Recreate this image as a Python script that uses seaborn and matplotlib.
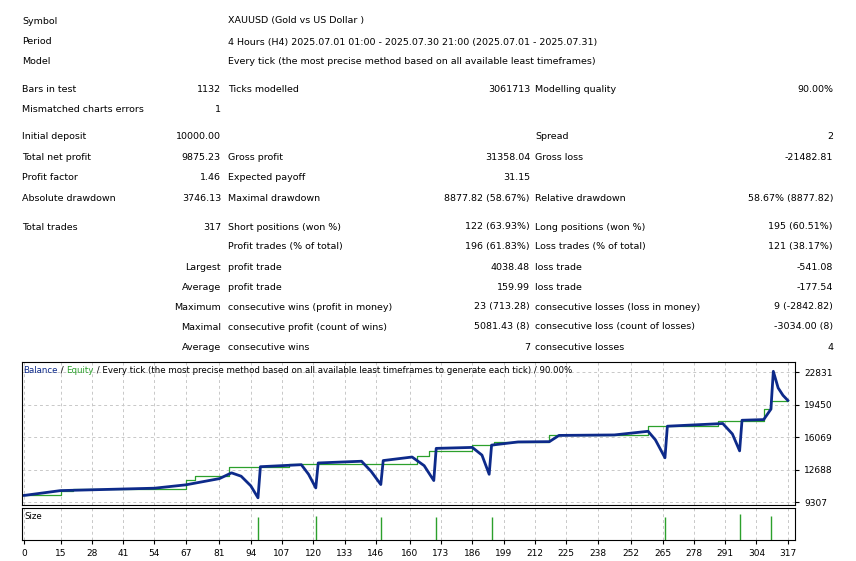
import matplotlib
matplotlib.use("Agg")
import matplotlib.pyplot as plt
import seaborn as sns
import pandas as pd

# ---- chart data ----
bal_t = [0, 15, 54, 67, 81, 86, 90, 94, 97, 98, 115, 118, 121, 122, 140, 144, 148, 149, 161, 166, 170, 171, 186, 190, 193, 194, 205, 218, 222, 245, 259, 262, 266, 267, 290, 294, 297, 298, 307, 310, 311, 313, 315, 317]
bal_v = [10000, 10500, 10750, 11100, 11750, 12350, 12000, 11000, 9750, 12990, 13200, 12200, 10780, 13380, 13560, 12500, 11130, 13630, 14000, 13100, 11550, 14900, 15000, 14200, 12200, 15240, 15570, 15600, 16250, 16300, 16680, 15800, 13920, 17210, 17490, 16400, 14640, 17830, 17900, 18990, 22930, 21200, 20430, 19900]
eq_t = [0, 15, 20, 67, 71, 85, 110, 163, 168, 186, 195, 218, 259, 288, 307, 310, 317]
eq_v = [10000, 10500, 10650, 11650, 12000, 12920, 13300, 14100, 14640, 15240, 15600, 16250, 17210, 17800, 18990, 19880, 19880]
size_t = [97, 121, 148, 171, 194, 266, 297, 310]
size_v = [0.72, 0.75, 0.72, 0.72, 0.72, 0.72, 0.82, 0.74]
xticks = [0, 15, 28, 41, 54, 67, 81, 94, 107, 120, 133, 146, 160, 173, 186, 199, 212, 225, 238, 252, 265, 278, 291, 304, 317]
yticks = [9307, 12688, 16069, 19450, 22831]

rows = [
    (21, [("Symbol", 22, "left"), ("XAUUSD (Gold vs US Dollar )", 228, "left")]),
    (42, [("Period", 22, "left"), ("4 Hours (H4) 2025.07.01 01:00 - 2025.07.30 21:00 (2025.07.01 - 2025.07.31)", 228, "left")]),
    (62, [("Model", 22, "left"), ("Every tick (the most precise method based on all available least timeframes)", 228, "left")]),
    (89, [("Bars in test", 22, "left"), ("1132", 221, "right"), ("Ticks modelled", 228, "left"), ("3061713", 530, "right"), ("Modelling quality", 535, "left"), ("90.00%", 833, "right")]),
    (109, [("Mismatched charts errors", 22, "left"), ("1", 221, "right")]),
    (137, [("Initial deposit", 22, "left"), ("10000.00", 221, "right"), ("Spread", 535, "left"), ("2", 833, "right")]),
    (158, [("Total net profit", 22, "left"), ("9875.23", 221, "right"), ("Gross profit", 228, "left"), ("31358.04", 530, "right"), ("Gross loss", 535, "left"), ("-21482.81", 833, "right")]),
    (178, [("Profit factor", 22, "left"), ("1.46", 221, "right"), ("Expected payoff", 228, "left"), ("31.15", 530, "right")]),
    (198, [("Absolute drawdown", 22, "left"), ("3746.13", 221, "right"), ("Maximal drawdown", 228, "left"), ("8877.82 (58.67%)", 530, "right"), ("Relative drawdown", 535, "left"), ("58.67% (8877.82)", 833, "right")]),
    (227, [("Total trades", 22, "left"), ("317", 221, "right"), ("Short positions (won %)", 228, "left"), ("122 (63.93%)", 530, "right"), ("Long positions (won %)", 535, "left"), ("195 (60.51%)", 833, "right")]),
    (247, [("Profit trades (% of total)", 228, "left"), ("196 (61.83%)", 530, "right"), ("Loss trades (% of total)", 535, "left"), ("121 (38.17%)", 833, "right")]),
    (267, [("Largest", 221, "right"), ("profit trade", 228, "left"), ("4038.48", 530, "right"), ("loss trade", 535, "left"), ("-541.08", 833, "right")]),
    (287, [("Average", 221, "right"), ("profit trade", 228, "left"), ("159.99", 530, "right"), ("loss trade", 535, "left"), ("-177.54", 833, "right")]),
    (307, [("Maximum", 221, "right"), ("consecutive wins (profit in money)", 228, "left"), ("23 (713.28)", 530, "right"), ("consecutive losses (loss in money)", 535, "left"), ("9 (-2842.82)", 833, "right")]),
    (327, [("Maximal", 221, "right"), ("consecutive profit (count of wins)", 228, "left"), ("5081.43 (8)", 530, "right"), ("consecutive loss (count of losses)", 535, "left"), ("-3034.00 (8)", 833, "right")]),
    (347, [("Average", 221, "right"), ("consecutive wins", 228, "left"), ("7", 530, "right"), ("consecutive losses", 535, "left"), ("4", 833, "right")]),
]

W, H = 856, 561
fig = plt.figure(figsize=(W / 100, H / 100), dpi=100)
fig.patch.set_facecolor("white")
for y, cells in rows:
    for txt, x, ha in cells:
        fig.text(x / W, 1 - y / H, txt, ha=ha, va="center", fontsize=6.8, family="DejaVu Sans")

L, R = 22 / W, 795 / W
ax = fig.add_axes([L, 1 - 505 / H, R - L, (505 - 362) / H])
ax2 = fig.add_axes([L, 1 - 540 / H, R - L, (540 - 508) / H])

df_eq = pd.DataFrame({"t": eq_t, "v": eq_v})
df_bal = pd.DataFrame({"t": bal_t, "v": bal_v})
sns.lineplot(data=df_eq, x="t", y="v", ax=ax, color="#2ca02c", lw=0.9, drawstyle="steps-post")
sns.lineplot(data=df_bal, x="t", y="v", ax=ax, color="#0d2a8a", lw=2.0)
xmin, xmax = -1, 320
ax.set_xlim(xmin, xmax)
ax.set_ylim(9000, 23900)
ax.yaxis.tick_right()
ax.set_yticks(yticks)
ax.set_yticklabels([str(v) for v in yticks], fontsize=6.5)
ax.set_xticks(xticks)
ax.tick_params(axis="x", labelbottom=False, length=0)
ax.tick_params(axis="y", length=3)
ax.grid(True, ls=(0, (3, 3)), color="#c8c8c8", lw=0.7)
ax.set_xlabel(""); ax.set_ylabel("")

fs = 6.2
t1 = ax.text(0.002, 0.975, "Balance", transform=ax.transAxes, color="#0d2a8a", fontsize=fs, va="top")
t2 = ax.annotate(" / ", xy=(1, 0), xycoords=t1, va="bottom", fontsize=fs, color="black")
t3 = ax.annotate("Equity", xy=(1, 0), xycoords=t2, va="bottom", fontsize=fs, color="#2ca02c")
ax.annotate(" / Every tick (the most precise method based on all available least timeframes to generate each tick) / 90.00%",
            xy=(1, 0), xycoords=t3, va="bottom", fontsize=fs, color="black")

ax2.vlines(size_t, 0, size_v, color="#2ca02c", lw=1)
ax2.set_xlim(xmin, xmax)
ax2.set_ylim(0, 1)
ax2.set_yticks([])
ax2.set_xticks(xticks)
ax2.set_xticklabels([str(t) for t in xticks], fontsize=6.5)
ax2.tick_params(axis="x", length=3)
ax2.grid(True, axis="x", ls=(0, (3, 3)), color="#c8c8c8", lw=0.7)
ax2.text(0.003, 0.88, "Size", transform=ax2.transAxes, fontsize=6.2, va="top")
for a in (ax, ax2):
    for s in a.spines.values():
        s.set_color("black"); s.set_linewidth(0.8)

fig.savefig("out.png", dpi=100)
